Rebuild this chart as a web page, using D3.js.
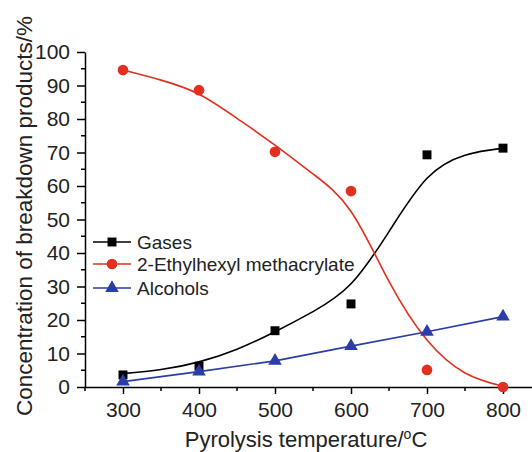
<!DOCTYPE html>
<html>
<head>
<meta charset="utf-8">
<script src="https://d3js.org/d3.v7.min.js"></script>
<style>
  body { margin: 0; background: #fff; }
  svg text { font-family: "Liberation Sans", Arial, sans-serif; fill: #222; }
</style>
</head>
<body>
<div id="chart"></div>
<script>
// measured points
const temps = [300, 400, 500, 600, 700, 800];
const gases = [3.6, 6.2, 16.8, 24.8, 69.3, 71.3];
const ehma = [94.6, 88.6, 70.2, 58.5, 5.1, 0];
const alcohols = [1.6, 4.6, 7.8, 12.2, 16.5, 21];

// fitted curves, every 50 degrees
const fitTemps = [300, 350, 400, 450, 500, 550, 600, 650, 700, 750, 800];
const gasesFit = [4, 5.2, 7.5, 11.3, 16.5, 22.5, 30.8, 46.4, 62.3, 69.2, 71.3];
const ehmaFit = [94.6, 91.6, 87.4, 80.2, 72.2, 63.6, 52.4, 31.5, 14, 4.2, 0.2];

const legendNames = ["Gases", "2-Ethylhexyl methacrylate", "Alcohols"];
const colors = ["#000000", "#e1301f", "#2a3da8"];

const W = 532, H = 452;
const svg = d3.select("#chart").append("svg")
    .attr("width", W).attr("height", H);

const x = d3.scaleLinear().domain([250, 850]).range([85, 541]);
const y = d3.scaleLinear().domain([0, 100]).range([387, 52]);

// y axis
const yAxis = d3.axisLeft(y).tickValues(d3.range(0, 101, 10))
    .tickSize(8).tickSizeOuter(0).tickPadding(7);
const gy = svg.append("g").attr("transform", `translate(${x(250)},0)`).call(yAxis);
gy.selectAll("text").style("font-size", "21px");
gy.selectAll("line, path").attr("stroke", "#000").attr("stroke-width", 1.5);
svg.append("g").attr("transform", `translate(${x(250)},0)`)
  .selectAll("line").data(d3.range(5, 100, 10)).enter().append("line")
  .attr("x1", -4).attr("x2", 0).attr("y1", d => y(d)).attr("y2", d => y(d))
  .attr("stroke", "#000").attr("stroke-width", 1.5);

// x axis
const xAxis = d3.axisBottom(x).tickValues(temps)
    .tickSize(7).tickSizeOuter(0).tickPadding(8);
const gx = svg.append("g").attr("transform", `translate(0,${y(0)})`).call(xAxis);
gx.selectAll("text").style("font-size", "21px");
gx.selectAll("line, path").attr("stroke", "#000").attr("stroke-width", 1.5);
svg.append("g").attr("transform", `translate(0,${y(0)})`)
  .selectAll("line").data([250, 350, 450, 550, 650, 750, 850]).enter().append("line")
  .attr("y1", 0).attr("y2", 4).attr("x1", d => x(d)).attr("x2", d => x(d))
  .attr("stroke", "#000").attr("stroke-width", 1.5);

// titles
svg.append("text")
  .attr("transform", "translate(32,216) rotate(-90)")
  .attr("text-anchor", "middle")
  .style("font-size", "22.5px")
  .text("Concentration of breakdown products/%");

const xt = svg.append("text")
  .attr("x", 306).attr("y", 447)
  .attr("text-anchor", "middle")
  .style("font-size", "22px");
xt.append("tspan").text("Pyrolysis temperature/");
xt.append("tspan").attr("dy", -8).style("font-size", "14px").text("o");
xt.append("tspan").attr("dy", 8).text("C");

// curves
const smooth = d3.line().x(d => x(d[0])).y(d => y(d[1])).curve(d3.curveNatural);
const straight = d3.line().x(d => x(d[0])).y(d => y(d[1]));

svg.append("path").datum(fitTemps.map((t, i) => [t, gasesFit[i]]))
  .attr("d", smooth).attr("fill", "none").attr("stroke", colors[0]).attr("stroke-width", 1.6);
svg.append("path").datum(fitTemps.map((t, i) => [t, ehmaFit[i]]))
  .attr("d", smooth).attr("fill", "none").attr("stroke", colors[1]).attr("stroke-width", 1.6);
svg.append("path").datum(temps.map((t, i) => [t, alcohols[i]]))
  .attr("d", straight).attr("fill", "none").attr("stroke", colors[2]).attr("stroke-width", 1.6);

// markers
const sym = [d3.symbolSquare, d3.symbolCircle, d3.symbolTriangle];
const sizes = [80, 90, 80];
[gases, ehma, alcohols].forEach((vals, k) => {
  svg.append("g").selectAll("path").data(vals).enter().append("path")
    .attr("transform", (d, i) => `translate(${x(temps[i])},${y(d)})`)
    .attr("d", d3.symbol().type(sym[k]).size(sizes[k]))
    .attr("fill", colors[k]);
});

// legend
const legendY = [242, 264, 288];
const lg = svg.append("g");
legendNames.forEach((name, k) => {
  lg.append("line").attr("x1", 93).attr("x2", 131)
    .attr("y1", legendY[k]).attr("y2", legendY[k])
    .attr("stroke", colors[k]).attr("stroke-width", 1.6);
  lg.append("path").attr("transform", `translate(112,${legendY[k]})`)
    .attr("d", d3.symbol().type(sym[k]).size(sizes[k])).attr("fill", colors[k]);
  lg.append("text").attr("x", 137).attr("y", legendY[k]).attr("dy", "0.35em")
    .style("font-size", "19px").text(name);
});
</script>
</body>
</html>
